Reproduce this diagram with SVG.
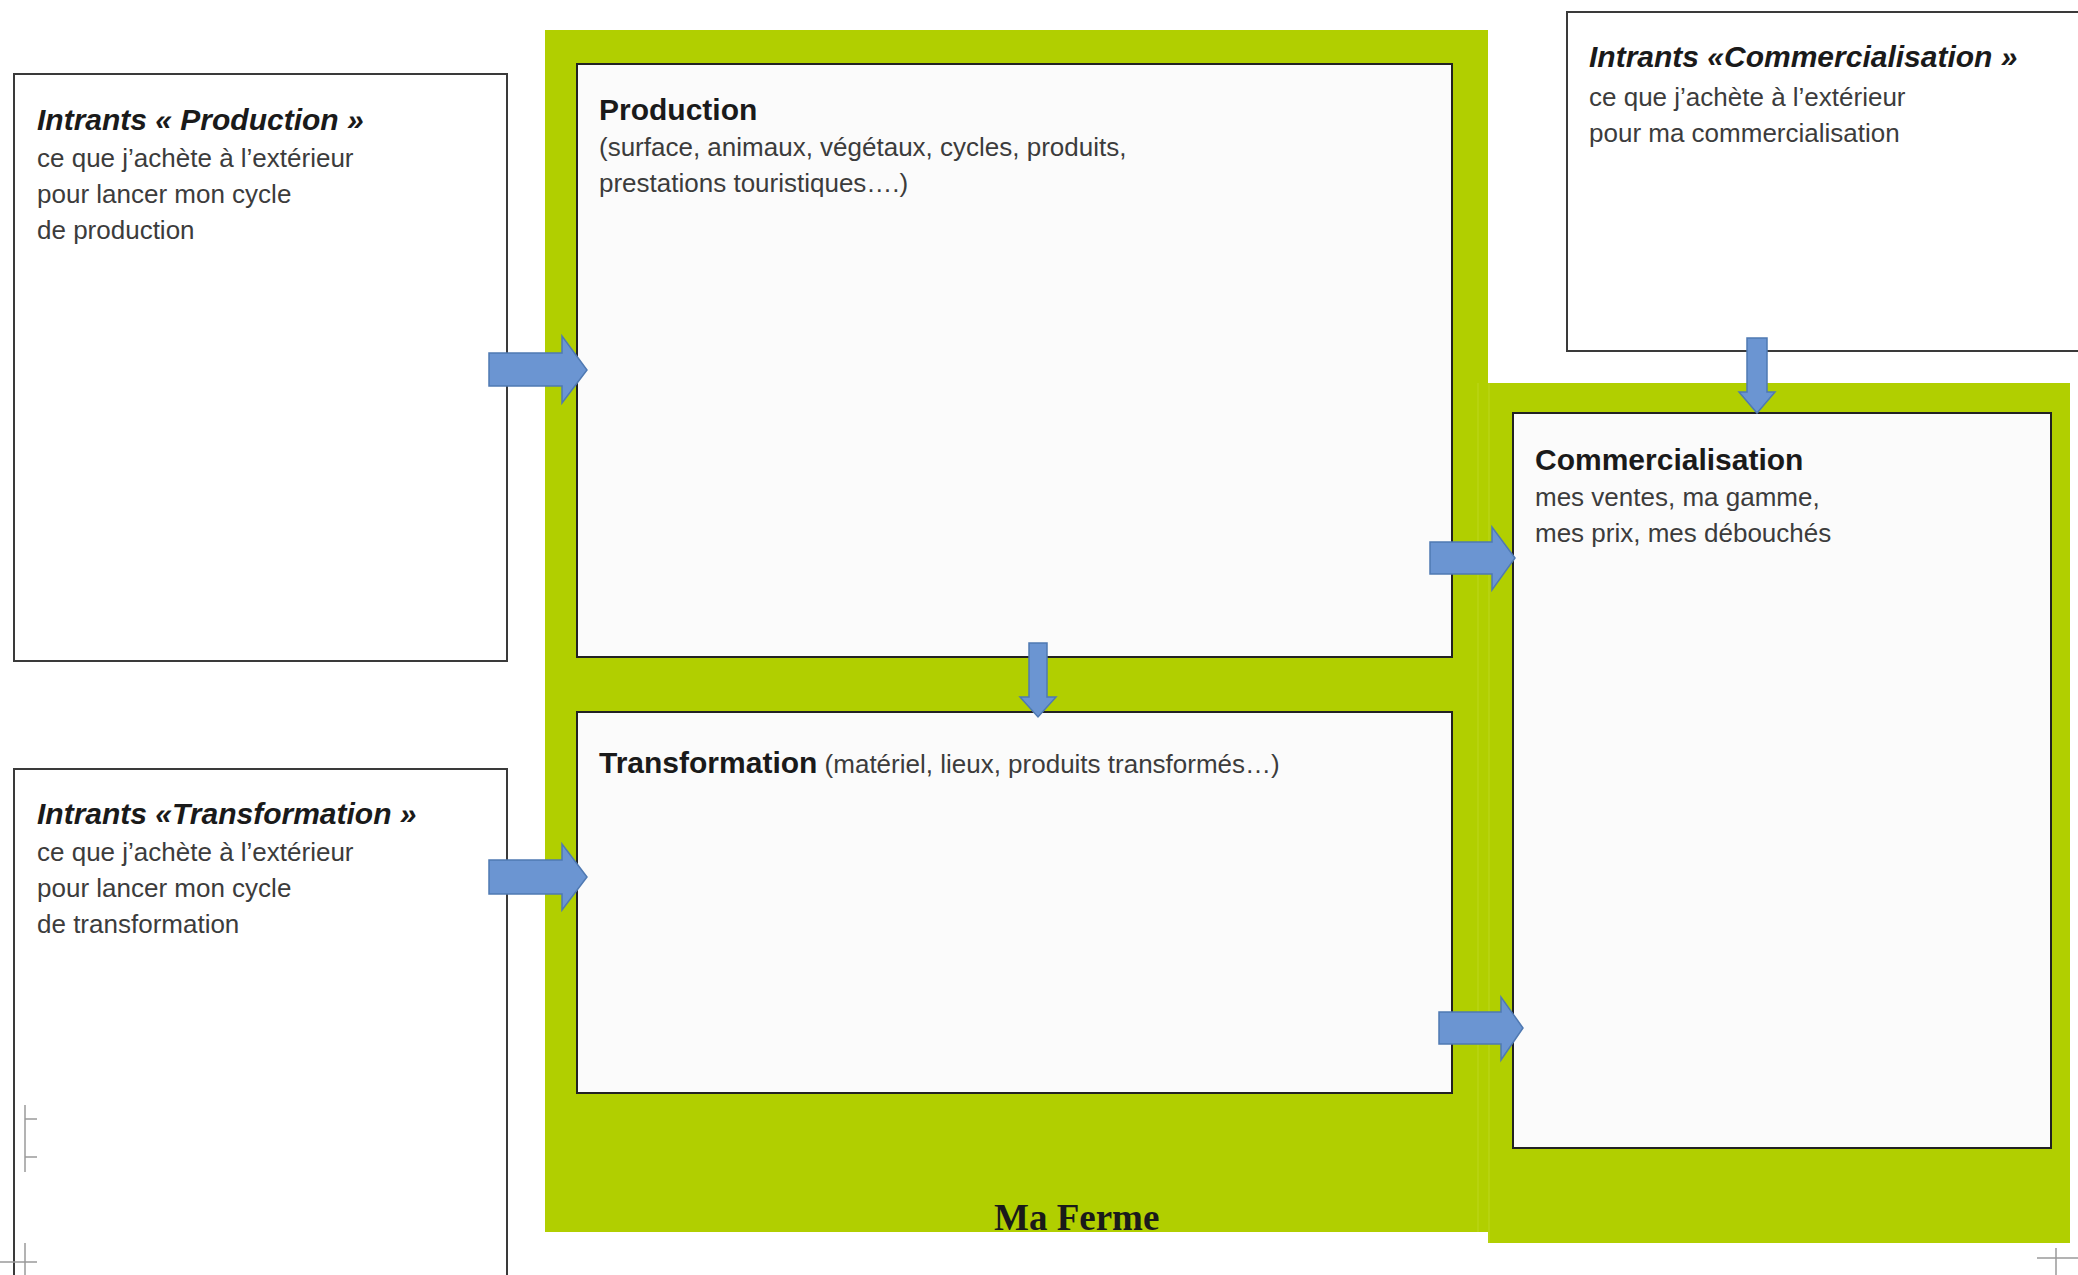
<svg xmlns="http://www.w3.org/2000/svg" width="2078" height="1275" viewBox="0 0 2078 1275">
  <style>
    .box { fill: #ffffff; stroke: #3a3a3a; stroke-width: 2; }
    .inner { fill: #fbfbfb; stroke: #222222; stroke-width: 2; }
    .farm { fill: #b1cf00; }
    .seam { stroke: #bdd61f; stroke-width: 1; }
    .arrow { fill: #6b95d2; stroke: #4f79b2; stroke-width: 1.5; stroke-linejoin: miter; }
    .mark { stroke: #9a9a9a; stroke-width: 1.5; fill: none; }
    .title { font-family: "Liberation Sans", Arial, sans-serif; font-size: 30px; font-weight: bold; font-style: italic; fill: #1a1a1a; }
    .head { font-family: "Liberation Sans", Arial, sans-serif; font-size: 30px; font-weight: bold; fill: #1a1a1a; }
    .body { font-family: "Liberation Sans", Arial, sans-serif; font-size: 26px; fill: #3c3c3c; }
    .farmname { font-family: "Liberation Serif", "Times New Roman", serif; font-size: 37px; font-weight: bold; fill: #1a1a1a; }
  </style>

  <rect x="0" y="0" width="2078" height="1275" fill="#ffffff"/>

  <!-- Green areas: the farm and its sales side -->
  <g id="ma-ferme">
    <rect class="farm" x="545" y="30" width="943" height="1202"/>
    <text class="farmname" x="994" y="1230">Ma Ferme</text>
  </g>
  <g id="zone-commercialisation">
    <rect class="farm" x="1488" y="383" width="582" height="860"/>
    <line class="seam" x1="1478" y1="383" x2="1478" y2="1232"/>
    <line class="seam" x1="1489" y1="383" x2="1489" y2="1243"/>
  </g>

  <!-- Outside inputs -->
  <g id="intrants-production">
    <rect class="box" x="14" y="74" width="493" height="587"/>
    <text class="title" x="37" y="130">Intrants « Production »</text>
    <text class="body" x="37" y="167">ce que j’achète à l’extérieur</text>
    <text class="body" x="37" y="203">pour lancer mon cycle</text>
    <text class="body" x="37" y="239">de production</text>
  </g>

  <g id="intrants-transformation">
    <rect class="box" x="14" y="769" width="493" height="520"/>
    <text class="title" x="37" y="824">Intrants «Transformation »</text>
    <text class="body" x="37" y="861">ce que j’achète à l’extérieur</text>
    <text class="body" x="37" y="897">pour lancer mon cycle</text>
    <text class="body" x="37" y="933">de transformation</text>
  </g>

  <g id="intrants-commercialisation">
    <rect class="box" x="1567" y="12" width="530" height="339"/>
    <text class="title" x="1589" y="67">Intrants «Commercialisation »</text>
    <text class="body" x="1589" y="106">ce que j’achète à l’extérieur</text>
    <text class="body" x="1589" y="142">pour ma commercialisation</text>
  </g>

  <!-- Farm activities -->
  <g id="production">
    <rect class="inner" x="577" y="64" width="875" height="593"/>
    <text class="head" x="599" y="120">Production</text>
    <text class="body" x="599" y="156">(surface, animaux, végétaux, cycles, produits,</text>
    <text class="body" x="599" y="192">prestations touristiques….)</text>
  </g>

  <g id="transformation">
    <rect class="inner" x="577" y="712" width="875" height="381"/>
    <text x="599" y="773"><tspan class="head">Transformation</tspan><tspan class="body"> (matériel, lieux, produits transformés…)</tspan></text>
  </g>

  <g id="commercialisation">
    <rect class="inner" x="1513" y="413" width="538" height="735"/>
    <text class="head" x="1535" y="470">Commercialisation</text>
    <text class="body" x="1535" y="506">mes ventes, ma gamme,</text>
    <text class="body" x="1535" y="542">mes prix, mes débouchés</text>
  </g>

  <!-- Block arrows between the boxes -->
  <g id="connectors">
    <path class="arrow" d="M489,353 H562 V336 L587,370 L562,403 V386 H489 Z"/>
    <path class="arrow" d="M489,860 H562 V844 L587,877 L562,910 V894 H489 Z"/>
    <path class="arrow" d="M1029,643 H1047 V697 H1056 L1038,717 L1020,697 H1029 Z"/>
    <path class="arrow" d="M1430,542 H1492 V527 L1515,558 L1492,590 V574 H1430 Z"/>
    <path class="arrow" d="M1439,1012 H1501 V997 L1523,1028 L1501,1060 V1044 H1439 Z"/>
    <path class="arrow" d="M1747,338 H1767 V392 H1775 L1757,413 L1739,392 H1747 Z"/>
  </g>

  <!-- Page layout marks -->
  <g id="layout-marks">
    <path class="mark" d="M25,1105 V1172 M25,1119 H37 M25,1157 H37"/>
    <path class="mark" d="M25,1243 V1275 M0,1262 H37"/>
    <path class="mark" d="M2056,1248 V1275 M2037,1258 H2078"/>
  </g>
</svg>
